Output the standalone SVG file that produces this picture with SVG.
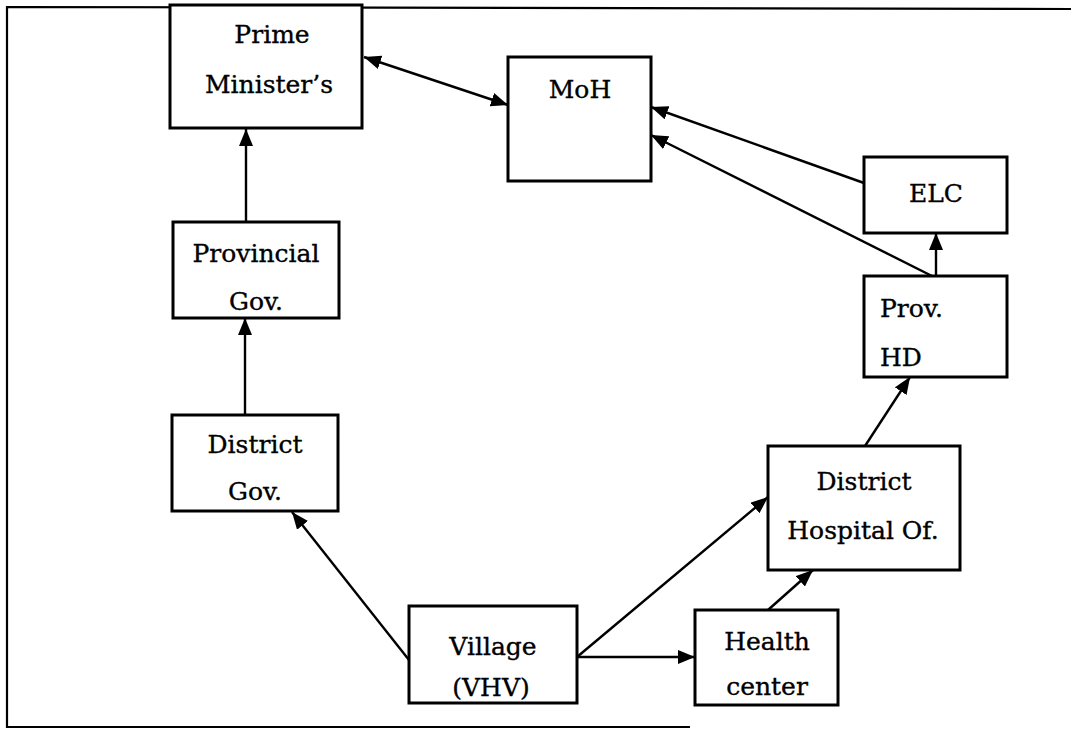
<svg xmlns="http://www.w3.org/2000/svg" width="1071" height="729" viewBox="0 0 1071 729">
  <style>
    .box { fill: #ffffff; stroke: #000000; stroke-width: 3; }
    .lbl { font-family: "DejaVu Serif", "Liberation Serif", serif; font-size: 25px; fill: #000000; stroke: #000000; stroke-width: 0.35; text-anchor: middle; }
    .lbl-left { text-anchor: start; }
    .link { fill: none; stroke: #000000; stroke-width: 2.4; }
    .frame { fill: none; stroke: #000000; stroke-width: 2.2; }
  </style>
  <defs>
    <marker id="arrow" markerUnits="userSpaceOnUse" markerWidth="18" markerHeight="14" refX="17" refY="7" orient="auto-start-reverse">
      <path d="M0,0 L17,7 L0,14 z" fill="#000000"/>
    </marker>
  </defs>

  <rect width="1071" height="729" fill="#ffffff"/>

  <!-- page frame (open on the right) -->
  <polyline class="frame" points="690,727 7,727 7,7 1071,9"/>

  <!-- connectors -->
  <g id="connectors">
    <line class="link" x1="364" y1="57" x2="508" y2="105" marker-start="url(#arrow)" marker-end="url(#arrow)"/>
    <line class="link" x1="246" y1="222" x2="246" y2="129" marker-end="url(#arrow)"/>
    <line class="link" x1="245" y1="415" x2="245" y2="318" marker-end="url(#arrow)"/>
    <line class="link" x1="409" y1="660" x2="292" y2="512" marker-end="url(#arrow)"/>
    <line class="link" x1="577" y1="657" x2="695" y2="657" marker-end="url(#arrow)"/>
    <line class="link" x1="577" y1="657" x2="768" y2="497" marker-end="url(#arrow)"/>
    <line class="link" x1="768" y1="610" x2="813" y2="570" marker-end="url(#arrow)"/>
    <line class="link" x1="865" y1="446" x2="910" y2="377" marker-end="url(#arrow)"/>
    <line class="link" x1="936" y1="276" x2="936" y2="233" marker-end="url(#arrow)"/>
    <line class="link" x1="932" y1="276" x2="651" y2="135" marker-end="url(#arrow)"/>
    <line class="link" x1="864" y1="183" x2="651" y2="107" marker-end="url(#arrow)"/>
  </g>

  <g id="node-prime-minister">
    <rect class="box" x="170" y="5" width="192" height="123"/>
    <text class="lbl" x="272" y="43">Prime</text>
    <text class="lbl" x="269" y="93">Minister’s</text>
  </g>

  <g id="node-moh">
    <rect class="box" x="508" y="57" width="143" height="124"/>
    <text class="lbl" x="580" y="98">MoH</text>
  </g>

  <g id="node-elc">
    <rect class="box" x="864" y="157" width="143" height="76"/>
    <text class="lbl" x="936" y="202">ELC</text>
  </g>

  <g id="node-prov-hd">
    <rect class="box" x="864" y="276" width="143" height="101"/>
    <text class="lbl lbl-left" x="880" y="317">Prov.</text>
    <text class="lbl lbl-left" x="880" y="366">HD</text>
  </g>

  <g id="node-provincial-gov">
    <rect class="box" x="173" y="222" width="166" height="96"/>
    <text class="lbl" x="256" y="262">Provincial</text>
    <text class="lbl" x="256" y="310">Gov.</text>
  </g>

  <g id="node-district-gov">
    <rect class="box" x="172" y="415" width="166" height="96"/>
    <text class="lbl" x="255" y="453">District</text>
    <text class="lbl" x="255" y="500">Gov.</text>
  </g>

  <g id="node-district-hospital">
    <rect class="box" x="768" y="446" width="192" height="124"/>
    <text class="lbl" x="864" y="490">District</text>
    <text class="lbl" x="863" y="539">Hospital Of.</text>
  </g>

  <g id="node-village">
    <rect class="box" x="409" y="606" width="168" height="97"/>
    <text class="lbl" x="493" y="655">Village</text>
    <text class="lbl" x="491" y="696">(VHV)</text>
  </g>

  <g id="node-health-center">
    <rect class="box" x="695" y="610" width="143" height="95"/>
    <text class="lbl" x="767" y="650">Health</text>
    <text class="lbl" x="767" y="695">center</text>
  </g>
</svg>
